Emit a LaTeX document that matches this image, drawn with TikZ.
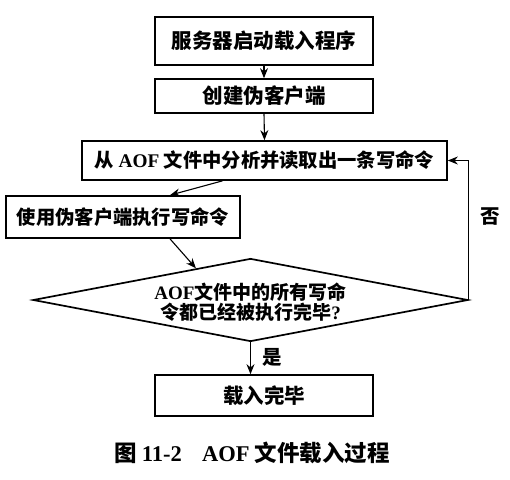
\documentclass[tikz,border=0pt]{standalone}
\usepackage{fontspec}
\setmainfont{Liberation Serif}
\newfontfamily\cjk{Noto Sans CJK SC}
\usetikzlibrary{shapes.geometric,arrows.meta,calc}
\newcommand\lat[1]{{\rmfamily\bfseries #1}}
\begin{document}
\begin{tikzpicture}[x=1pt,y=-1pt,
  box/.style={draw, line width=1.7pt, inner sep=0pt, font=\cjk\bfseries\fontsize{20.5}{24}\selectfont},
  conn/.style={line width=1.1pt, -{Stealth[length=10pt,width=8pt]}},
  lbl/.style={font=\cjk\bfseries\fontsize{19.5}{22}\selectfont, inner sep=0pt}]
\useasboundingbox (0,0) rectangle (510,479);
\node[box, minimum width=218pt, minimum height=48pt] (b1) at (264,41) {服务器启动载入程序};
\node[box, minimum width=218pt, minimum height=34pt] (b2) at (264,96) {创建伪客户端};
\node[box, minimum width=365pt, minimum height=39pt, font=\cjk\bfseries\fontsize{19.3}{22}\selectfont] (b3) at (264.5,160.5) {从 \lat{AOF} 文件中分析并读取出一条写命令};
\node[box, minimum width=234pt, minimum height=42pt, font=\cjk\bfseries\fontsize{19.3}{22}\selectfont] (b4) at (123,217) {使用伪客户端执行写命令};
\node[draw, line width=1.7pt, shape=diamond, inner sep=0pt, minimum width=435pt, minimum height=83pt, shape aspect=5.24] (dia) at (250.5,300) {};
\node[font=\cjk\bfseries\fontsize{19}{20.5}\selectfont, align=center, inner sep=0pt] (dt) at (250.5,302) {\lat{AOF}文件中的所有写命\\令都已经被执行完毕\lat{?}};
\node[box, minimum width=218pt, minimum height=41pt] (b5) at (264,395.5) {载入完毕};
\draw[conn] (b1.south) -- (b2.north);
\draw[conn] (b2.south) -- (b3.north);
\draw[conn] ([xshift=-42pt]b3.south) -- ([xshift=47pt]b4.north);
\draw[conn] ([xshift=47pt]b4.south) -- ($(dia.west)!0.75!(dia.north)$);
\draw[conn] (dia.south) -- (dia.south |- b5.north);
\draw[conn] (dia.east) |- (b3.east);
\node[lbl] (no) at (490,217) {否};
\node[lbl] (yes) at (272,357) {是};
\node[font=\cjk\bfseries\fontsize{22.5}{26}\selectfont, inner sep=0pt] (cap) at (252,453) {图 \lat{11-2}\hspace{0.9em}\lat{AOF} 文件载入过程};
\end{tikzpicture}
\end{document}
